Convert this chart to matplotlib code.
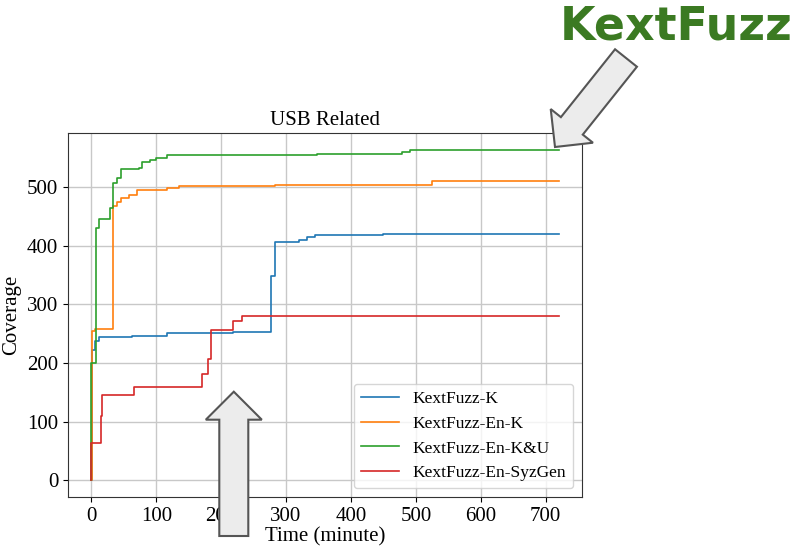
import matplotlib

matplotlib.use('Agg')
import matplotlib.pyplot as plt
from matplotlib.patches import FancyArrow

# coverage over time (minutes)
t_k = [0, 1, 6, 12, 62, 117, 218, 277, 283, 320, 332, 345, 450, 720]
cov_k = [0, 223, 238, 245, 247, 251, 253, 349, 407, 410, 415, 418, 420, 420]

t_en_k = [0, 1, 6, 34, 40, 46, 58, 71, 117, 135, 283, 525, 720]
cov_en_k = [0, 255, 258, 468, 474, 481, 487, 495, 499, 501, 504, 511, 511]

t_en_ku = [0, 0, 7, 12, 29, 34, 39, 45, 73, 78, 91, 100, 117, 347, 478,
           491, 720]
cov_en_ku = [0, 200, 430, 446, 465, 507, 515, 530, 532, 542, 546, 550, 554,
             556, 560, 564, 564]

t_syzgen = [0, 0, 15, 16, 66, 170, 179, 184, 185, 218, 232, 720]
cov_syzgen = [0, 64, 109, 145, 159, 182, 207, 240, 256, 272, 280, 280]

series = [
    ('KextFuzz-K', t_k, cov_k),
    ('KextFuzz-En-K', t_en_k, cov_en_k),
    ('KextFuzz-En-K&U', t_en_ku, cov_en_ku),
    ('KextFuzz-En-SyzGen', t_syzgen, cov_syzgen),
]

plt.rcParams['font.family'] = ['Liberation Serif', 'DejaVu Serif']

fig = plt.figure(figsize=(7.96, 5.5), dpi=100)
ax = fig.add_axes([0.0854, 0.0964, 0.6457, 0.6618])

for label, t, cov in series:
    ax.step(t, cov, where='post', label=label, linewidth=1.2)

ax.set_title('USB Related', fontsize=15)
ax.set_xlabel('Time (minute)', fontsize=15, labelpad=1)
ax.set_ylabel('Coverage', fontsize=15)
ax.tick_params(labelsize=15)
ax.set_xticks(range(0, 800, 100))
ax.set_yticks(range(0, 600, 100))
ax.grid(True, color='#c8c8c8', linewidth=1)
for spine in ax.spines.values():
    spine.set_color('#333333')
ax.legend(loc='lower right', fontsize=12.5, handlelength=2.2)

# annotation arrows and label drawn over the figure (inches)
arrow_style = dict(facecolor='#ececec', edgecolor='#555555', linewidth=1.5,
                   length_includes_head=True, transform=fig.dpi_scale_trans,
                   zorder=10)
fig.add_artist(FancyArrow(6.26, 4.92, -0.71, -0.89, width=0.28,
                          head_width=0.54, head_length=0.27, **arrow_style))
fig.add_artist(FancyArrow(2.338, 0.14, 0.0, 1.443, width=0.29,
                          head_width=0.56, head_length=0.28, **arrow_style))

fig.text(0.849, 0.951, 'KextFuzz', color='#3b7a22', fontsize=33,
         fontweight='bold', family='DejaVu Sans', ha='center', va='center')

fig.savefig('out.png', dpi=100)
